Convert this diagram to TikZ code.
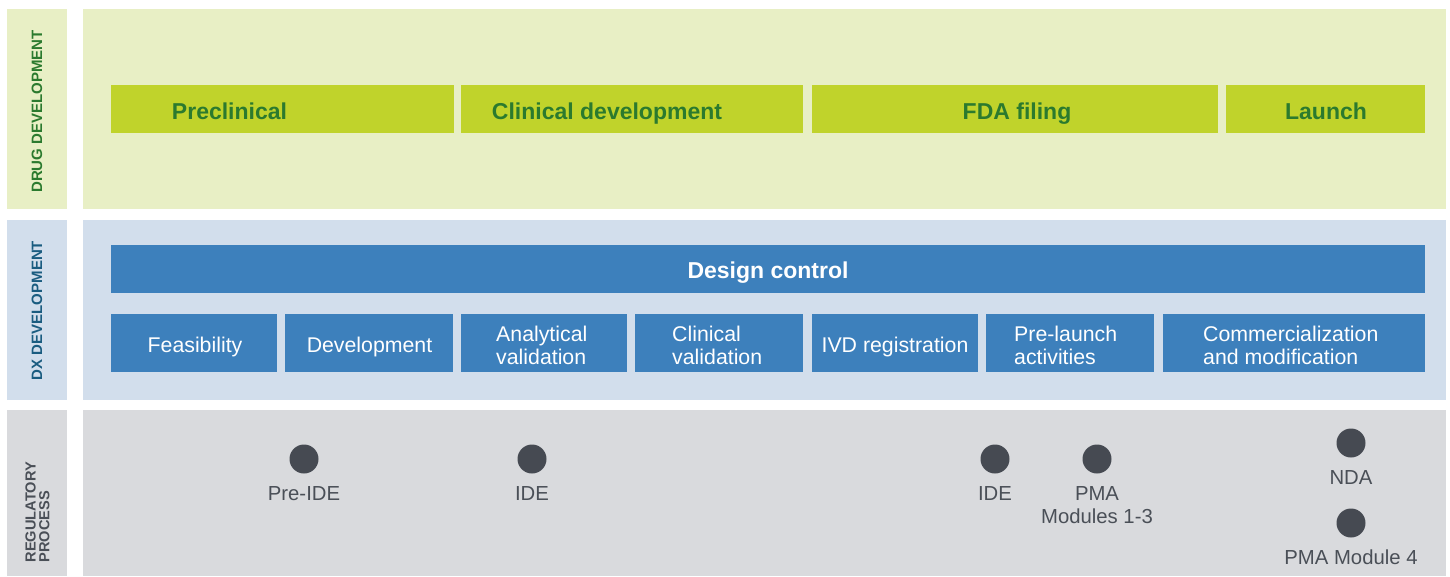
\documentclass[tikz,border=0pt]{standalone}
\usepackage{fontspec}
\setmainfont{Liberation Sans}
\definecolor{drugbg}{HTML}{E8EFC5}
\definecolor{druggreen}{HTML}{C0D32B}
\definecolor{drugtext}{HTML}{2B7A2E}
\definecolor{dxbg}{HTML}{D2DEEC}
\definecolor{dxblue}{HTML}{3D80BC}
\definecolor{dxtext}{HTML}{1A5C80}
\definecolor{regbg}{HTML}{D9DADD}
\definecolor{regdot}{HTML}{464A52}
\definecolor{regtext}{HTML}{4A4F57}
\tikzset{
  bar/.style={draw=none, anchor=north west, inner sep=0pt},
  greentxt/.style={anchor=base, inner sep=0pt, font=\fontsize{23}{26}\selectfont\bfseries, text=drugtext},
  bluetxt/.style={anchor=base, inner sep=0pt, font=\fontsize{21.3}{23.5}\selectfont, text=white},
  bluetwo/.style={anchor=base west, inner sep=0pt, font=\fontsize{21.3}{23}\selectfont, text=white, align=left},
  dot/.style={circle, fill=regdot, draw=none, minimum size=29pt, inner sep=0pt},
  dotlabel/.style={anchor=base, font=\fontsize{20.3}{23.5}\selectfont, text=regtext, inner sep=0pt, align=center},
  sidelabel/.style={rotate=90, font=\fontsize{15}{15}\selectfont\bfseries, inner sep=0pt, align=left}
}
\begin{document}
\begin{tikzpicture}[x=1pt,y=-1pt]
\useasboundingbox (0,0) rectangle (1450,576);
\fill[white] (0,0) rectangle (1450,576);
% panels
\fill[drugbg] (7,9) rectangle (67,209);
\fill[drugbg] (83,9) rectangle (1446,209);
\fill[dxbg] (7,220) rectangle (67,400);
\fill[dxbg] (83,220) rectangle (1446,400);
\fill[regbg] (7,410) rectangle (67,576);
\fill[regbg] (83,410) rectangle (1446,576);
% side labels
\node[sidelabel, text=drugtext] (ldrug) at (37,111.5) {DRUG DEVELOPMENT};
\node[sidelabel, text=dxtext] (ldx) at (37,310.5) {DX DEVELOPMENT};
\node[sidelabel, text=regtext, anchor=west, font=\fontsize{14.6}{13.8}\selectfont\bfseries] (lreg) at (37.5,562.5) {REGULATORY\\PROCESS};
% green bars
\node[bar, fill=druggreen, minimum width=343pt, minimum height=48pt] (pre) at (111,85) {};
\node[bar, fill=druggreen, minimum width=342pt, minimum height=48pt] (clin) at (461,85) {};
\node[bar, fill=druggreen, minimum width=406pt, minimum height=48pt] (fda) at (812,85) {};
\node[bar, fill=druggreen, minimum width=199pt, minimum height=48pt] (launch) at (1226,85) {};
\node[greentxt] (tpre) at (229.5,119) {Preclinical};
\node[greentxt] (tclin) at (607,119) {Clinical development};
\node[greentxt] (tfda) at (1017,119) {FDA filing};
\node[greentxt] (tlaunch) at (1326,119) {Launch};
% design control
\node[bar, fill=dxblue, minimum width=1314pt, minimum height=48pt] (dc) at (111,245) {};
\node[greentxt, text=white] (tdc) at (768,278.5) {Design control};
% sub boxes
\node[bar, fill=dxblue, minimum width=166pt, minimum height=58pt] (feas) at (111,314) {};
\node[bar, fill=dxblue, minimum width=168pt, minimum height=58pt] (dev) at (285,314) {};
\node[bar, fill=dxblue, minimum width=166pt, minimum height=58pt] (anal) at (461,314) {};
\node[bar, fill=dxblue, minimum width=168pt, minimum height=58pt] (clv) at (635,314) {};
\node[bar, fill=dxblue, minimum width=166pt, minimum height=58pt] (ivd) at (812,314) {};
\node[bar, fill=dxblue, minimum width=168pt, minimum height=58pt] (prel) at (986,314) {};
\node[bar, fill=dxblue, minimum width=262pt, minimum height=58pt] (comm) at (1163,314) {};
\node[bluetxt] (tfeas) at (195,352) {Feasibility};
\node[bluetxt] (tdev) at (369.5,352) {Development};
\node[bluetwo] (tanal) at (496,364) {Analytical\\validation};
\node[bluetwo] (tclv) at (672,364) {Clinical\\validation};
\node[bluetxt] (tivd) at (895,352) {IVD registration};
\node[bluetwo] (tprel) at (1014,364) {Pre-launch\\activities};
\node[bluetwo] (tcomm) at (1203,364) {Commercialization\\and modification};
% dots
\node[dot] (d1) at (304,459) {};
\node[dotlabel] (t1) at (304,500) {Pre-IDE};
\node[dot] (d2) at (532,459) {};
\node[dotlabel] (t2) at (532,500) {IDE};
\node[dot] (d3) at (995,459) {};
\node[dotlabel] (t3) at (995,500) {IDE};
\node[dot] (d4) at (1097,459) {};
\node[dotlabel] (t4) at (1097,523.5) {PMA\\Modules 1-3};
\node[dot] (d5) at (1351,443) {};
\node[dotlabel] (t5) at (1351,484) {NDA};
\node[dot] (d6) at (1351,523) {};
\node[dotlabel] (t6) at (1351,564) {PMA Module 4};
\end{tikzpicture}
\end{document}
